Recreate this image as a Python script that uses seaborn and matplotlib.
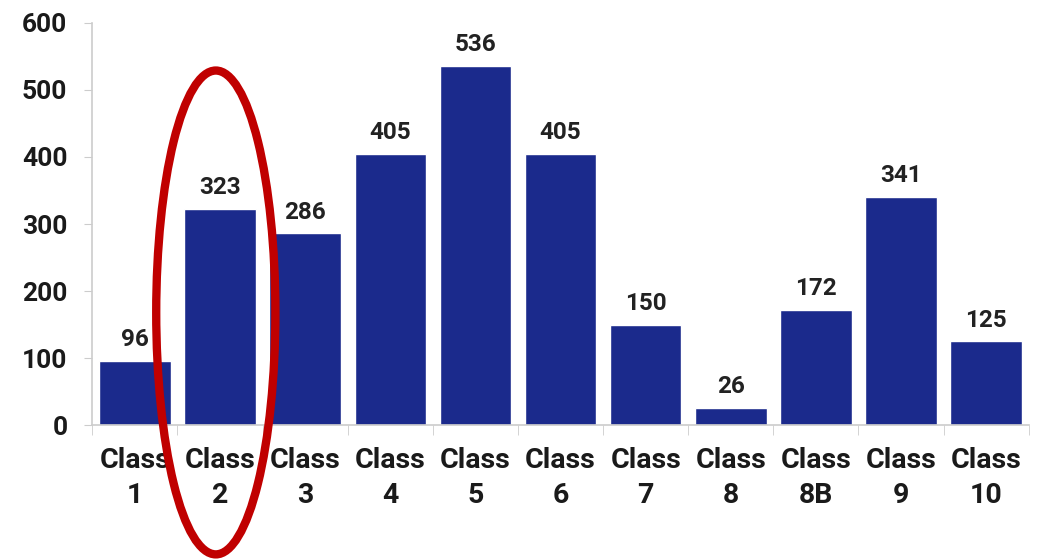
import matplotlib
matplotlib.use("Agg")
import matplotlib.pyplot as plt
import seaborn as sns
import pandas as pd
from matplotlib.patches import Ellipse
from matplotlib.ticker import FixedLocator

# data
classes = ["Class\n1", "Class\n2", "Class\n3", "Class\n4", "Class\n5", "Class\n6",
           "Class\n7", "Class\n8", "Class\n8B", "Class\n9", "Class\n10"]
counts = [96, 323, 286, 405, 536, 405, 150, 26, 172, 341, 125]
highlight = "Class\n2"

df = pd.DataFrame({"cls": classes, "n": counts})

sns.set_style("white")
plt.rcParams["font.family"] = ["Roboto", "DejaVu Sans"]
plt.rcParams["font.weight"] = "bold"

fig = plt.figure(figsize=(10.38, 5.6), dpi=100)
ax = fig.add_axes([0.089, 0.241, 0.902, 0.718])

sns.barplot(data=df, x="cls", y="n", color="#1b2a8c", saturation=1,
            width=0.84, ax=ax)

for i, v in enumerate(counts):
    ax.text(i, v + 14, str(v), ha="center", va="bottom",
            fontsize=17.5, fontweight="bold", color="#222222")

ax.set_ylim(0, 600)
ax.set_xlim(-0.5, len(classes) - 0.5)
ax.set_yticks(range(0, 601, 100))
ax.set_xlabel("")
ax.set_ylabel("")

ax.tick_params(axis="y", labelsize=19, length=6, color="#cccccc", pad=12,
               left=True)
ax.tick_params(axis="x", which="major", labelsize=20.5, length=0, pad=16)
ax.xaxis.set_minor_locator(FixedLocator([i - 0.5 for i in range(len(classes) + 1)]))
ax.tick_params(axis="x", which="minor", length=7, color="#cccccc", bottom=True)
for lab in ax.get_xticklabels() + ax.get_yticklabels():
    lab.set_fontweight("bold")
    lab.set_color("#1a1a1a")
for lab in ax.get_xticklabels():
    lab.set_linespacing(1.35)

for side in ["top", "right"]:
    ax.spines[side].set_visible(False)
for side in ["left", "bottom"]:
    ax.spines[side].set_color("#cccccc")
    ax.spines[side].set_linewidth(1.2)

# red ring around the highlighted class
hi = classes.index(highlight)
ring = Ellipse((hi - 0.05, 168), width=1.4, height=722, fill=False,
               edgecolor="#c00000", linewidth=6, clip_on=False, zorder=5)
ax.add_patch(ring)

fig.savefig("out.png", dpi=100)
